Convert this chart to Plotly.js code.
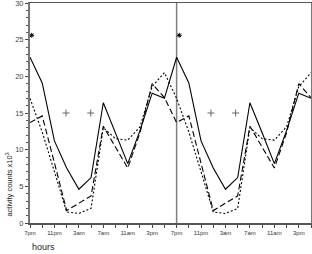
<!DOCTYPE html>
<html>
<head>
<meta charset="utf-8">
<script src="https://cdn.plot.ly/plotly-3.0.1.min.js"></script>
<style>html,body{margin:0;padding:0;background:#fff;}#chart{width:312px;height:254px;}</style>
</head>
<body>
<div id="chart"></div>
<script>
// 2-hourly time points of one day (7pm .. 5pm), double plotted over 48 h
const hours = ['7pm','9pm','11pm','1am','3am','5am','7am','9am','11am','1pm','3pm','5pm'];
const solidSeries  = [22.6, 19.1, 11.2, 7.5, 4.6, 6.2, 16.4, 12.3, 8.1, 12.6, 17.7, 17.0];
const dashSeries   = [13.7, 14.6, 8.2, 1.7, 2.7, 3.7, 13.2, 10.4, 7.5, 12.3, 19.0, 17.1];
const dotSeries    = [17.0, 12.4, 7.0, 1.5, 1.3, 2.0, 13.0, 11.5, 11.3, 13.1, 18.6, 20.5];
const tickLabels = ['7pm','11pm','3am','7am','11am','3pm'];
// significance markers (position in 2-h steps, value)
const starX = [0.14, 12.22];
const starY = [25.6, 25.6];
const plusX = [2.95, 4.97, 14.81, 16.83];
const plusY = [15, 15, 15, 15];
const dividerIndex = 12;
const yRange = [0, 30];

const idx = [];
for (let i = 0; i < hours.length * 2; i++) idx.push(i);
const dbl = a => a.concat(a);
const majorVals = idx.filter(i => i % 2 === 0);

const traces = [
  {x: [dividerIndex, dividerIndex], y: yRange, mode: 'lines', line: {color: '#808080', width: 1.5}, hoverinfo: 'skip'},
  {x: idx, y: dbl(solidSeries), mode: 'lines', line: {color: '#000', width: 1.1}},
  {x: idx, y: dbl(dashSeries), mode: 'lines', line: {color: '#000', width: 1.1, dash: '6px,3px'}},
  {x: idx, y: dbl(dotSeries), mode: 'lines', line: {color: '#000', width: 1.1, dash: '2px,2px'}},
  {x: starX, y: starY, mode: 'markers', marker: {symbol: 'asterisk-open', size: 4, color: '#000', line: {width: 1, color: '#000'}}},
  {x: plusX, y: plusY, mode: 'markers', marker: {symbol: 'cross-thin-open', size: 5, color: '#666', line: {width: 1, color: '#666'}}}
];

const layout = {
  width: 312, height: 254,
  margin: {l: 30, r: 1, t: 3, b: 31},
  showlegend: false,
  paper_bgcolor: '#fff', plot_bgcolor: '#fff',
  font: {family: 'Liberation Sans, Arial, sans-serif', color: '#333'},
  xaxis: {
    range: [0, 23], showgrid: false, zeroline: false,
    tickmode: 'array', tickvals: majorVals, ticktext: dbl(tickLabels),
    ticks: 'outside', ticklen: 3, tickwidth: 1, tickcolor: '#444',
    minor: {tickmode: 'linear', tick0: 0, dtick: 1, ticks: 'outside', ticklen: 3, tickwidth: 1, tickcolor: '#444', showgrid: false},
    tickfont: {size: 6, color: '#333'},
    showline: true, linecolor: '#555', linewidth: 1.5, mirror: true
  },
  yaxis: {
    range: yRange, showgrid: false, zeroline: false,
    tickmode: 'linear', tick0: 0, dtick: 5,
    ticks: 'outside', ticklen: 3, tickwidth: 1, tickcolor: '#444',
    ticklabeloverflow: 'allow',
    minor: {tickmode: 'linear', tick0: 0, dtick: 1, ticks: 'outside', ticklen: 2, tickwidth: 1, tickcolor: '#555', showgrid: false},
    tickfont: {size: 7.5, color: '#444'},
    showline: true, linecolor: '#777', linewidth: 2, mirror: true
  },
  annotations: [
    {text: 'activity counts x10<sup>3</sup>', xref: 'paper', yref: 'paper', x: -0.078, y: 0.175, textangle: -90,
     showarrow: false, font: {size: 7.5, color: '#222'}, xanchor: 'center', yanchor: 'middle'},
    {text: 'hours', xref: 'paper', yref: 'paper', x: 0.0, y: -0.11, showarrow: false,
     font: {size: 9, color: '#222'}, xanchor: 'left', yanchor: 'middle'}
  ]
};

Plotly.newPlot('chart', traces, layout, {staticPlot: true, displayModeBar: false});
</script>
</body>
</html>
